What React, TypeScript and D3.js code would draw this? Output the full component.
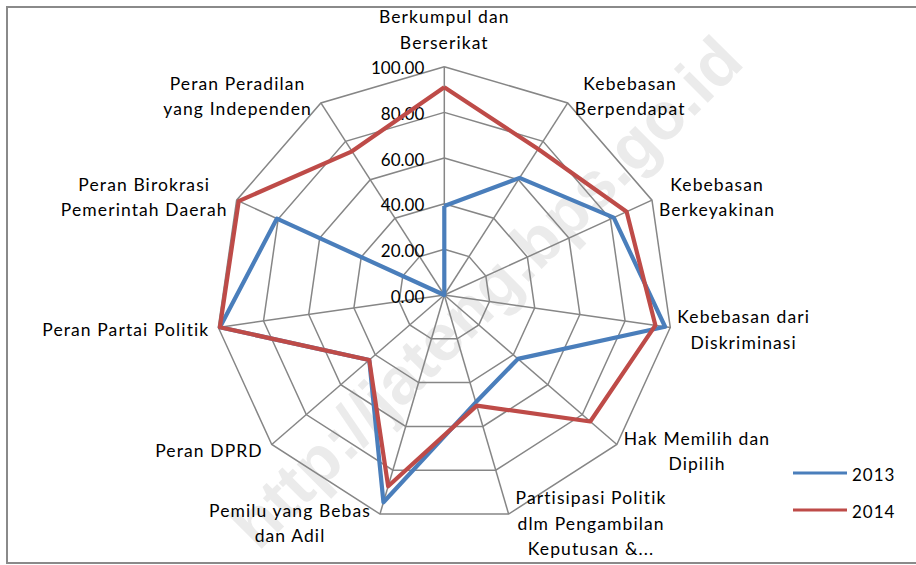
import React, { useEffect, useRef } from "react";
import * as d3 from "d3";

const categories: string[][] = [
  ["Berkumpul dan", "Berserikat"],
  ["Kebebasan", "Berpendapat"],
  ["Kebebasan", "Berkeyakinan"],
  ["Kebebasan dari", "Diskriminasi"],
  ["Hak Memilih dan", "Dipilih"],
  ["Partisipasi Politik", "dlm Pengambilan", "Keputusan &..."],
  ["Pemilu yang Bebas", "dan Adil"],
  ["Peran DPRD"],
  ["Peran Partai Politik"],
  ["Peran Birokrasi", "Pemerintah Daerah"],
  ["Peran Peradilan", "yang Independen"],
];
const values2013: number[] = [39, 61, 81.6, 97.7, 42.7, 49, 94.6, 43.5, 99.3, 80.6, 0];
const values2014: number[] = [91, 76, 87.8, 93.4, 84.6, 50.5, 87.3, 43.5, 99.3, 99, 74.8];
const ticks: number[] = [0, 20, 40, 60, 80, 100];
const seriesNames: string[] = ["2013", "2014"];
const seriesColors: string[] = ["#4a7ebb", "#be4b48"];
const watermark = "http://jateng.bps.go.id";

const W = 916;
const H = 565;
const CX = 444.3;
const CY = 295;
const R = 228.3;
const FONT = "Lato, 'Open Sans', sans-serif";
const FS = 17.5;

export default function App() {
  const ref = useRef<SVGSVGElement | null>(null);
  useEffect(() => {
    const svg = d3.select(ref.current);
    svg.selectAll("*").remove();
    const n = categories.length;
    const r = d3.scaleLinear().domain([0, 100]).range([0, R]);
    const ang = d3.scaleLinear().domain([0, n]).range([0, 2 * Math.PI]);
    const pt = (i: number, v: number): [number, number] => [
      CX + r(v) * Math.sin(ang(i)),
      CY - r(v) * Math.cos(ang(i)),
    ];

    // frame
    svg.append("rect").attr("x", 7).attr("y", 7).attr("width", 920).attr("height", 556)
      .attr("fill", "#fff").attr("stroke", "#8a8a8a").attr("stroke-width", 2);

    // watermark
    svg.append("text").attr("x", 0).attr("y", 0)
      .attr("transform", `translate(486,292) rotate(-45)`)
      .attr("text-anchor", "middle").attr("dominant-baseline", "central")
      .attr("font-family", "'Liberation Sans', Arial, sans-serif").attr("font-weight", "bold")
      .attr("font-size", 66).attr("fill", "#ebebeb").text(watermark);

    const g = svg.append("g");
    const idx = d3.range(n);

    // grid polygons
    ticks.filter((t) => t > 0).forEach((t) => {
      const pts = idx.map((i) => pt(i, t));
      g.append("path").attr("d", d3.line()(pts.concat([pts[0]])) as string)
        .attr("fill", "none").attr("stroke", "#868686").attr("stroke-width", 1.5);
    });
    // spokes
    idx.forEach((i) => {
      const [x, y] = pt(i, 100);
      g.append("line").attr("x1", CX).attr("y1", CY).attr("x2", x).attr("y2", y)
        .attr("stroke", "#868686").attr("stroke-width", 1.5);
    });

    // tick labels
    ticks.forEach((t) => {
      g.append("text").attr("x", CX - 20).attr("y", CY - r(t) + 1)
        .attr("text-anchor", "end").attr("dominant-baseline", "central")
        .attr("font-family", FONT).attr("font-size", 17).attr("fill", "#000")
        .text(t.toFixed(2));
    });

    // series
    [values2013, values2014].forEach((vals, s) => {
      const pts = vals.map((v, i) => pt(i, v));
      g.append("path").attr("d", d3.line()(pts.concat([pts[0]])) as string)
        .attr("fill", "none").attr("stroke", seriesColors[s]).attr("stroke-width", 4.2)
        .attr("stroke-linejoin", "round");
    });

    // category labels
    const lh = 25.5;
    categories.forEach((lines, i) => {
      const [vx, vy] = pt(i, 100);
      const s = Math.sin(ang(i));
      const c = Math.cos(ang(i));
      let anchor = "middle";
      let x = vx;
      let cy = vy - c * 9;
      if (Math.abs(s) < 0.01) {
        cy = vy - 17 - ((lines.length - 1) * lh) / 2 - 8;
      } else if (s > 0) {
        anchor = "start";
        x = vx + 7;
      } else {
        anchor = "end";
        x = vx - 9;
      }
      const t = g.append("text").attr("font-family", FONT).attr("font-size", FS)
        .attr("letter-spacing", 1.1)
        .attr("fill", "#000").attr("dominant-baseline", "central");
      if (anchor === "middle") t.attr("text-anchor", "middle");
      lines.forEach((ln, k) => {
        t.append("tspan").attr("x", x).attr("y", cy + (k - (lines.length - 1) / 2) * lh).text(ln);
      });
      if (anchor !== "middle") {
        const spans = t.selectAll<SVGTSpanElement, unknown>("tspan").nodes();
        const widths = spans.map((sp) => sp.getComputedTextLength());
        const maxW = Math.max(...widths);
        const mid = anchor === "start" ? x + maxW / 2 : x - maxW / 2;
        t.attr("text-anchor", "middle");
        spans.forEach((sp) => d3.select(sp).attr("x", mid));
      }
    });

    // legend
    seriesNames.forEach((nm, s) => {
      const y = 473 + s * 37;
      svg.append("line").attr("x1", 793).attr("x2", 847).attr("y1", y).attr("y2", y)
        .attr("stroke", seriesColors[s]).attr("stroke-width", 3);
      svg.append("text").attr("x", 852).attr("y", y + 1).attr("dominant-baseline", "central")
        .attr("font-family", FONT).attr("font-size", 17).attr("letter-spacing", 1)
        .attr("fill", "#000").text(nm);
    });
  }, []);
  return (
    <svg ref={ref} width={W} height={H}
      style={{ position: "absolute", left: 0, top: 0, background: "#fff" }} />
  );
}
